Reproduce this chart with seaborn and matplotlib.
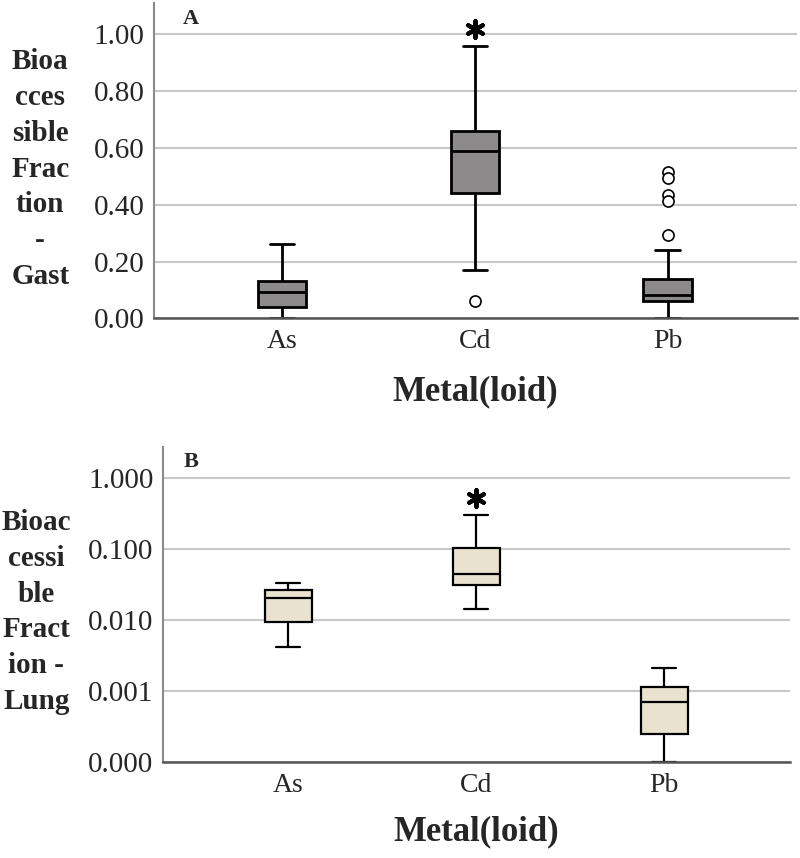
import pandas as pd
import matplotlib.pyplot as plt
import matplotlib.ticker as mticker
import seaborn as sns

#%% Dados (min, Q1, mediana, Q3, max de cada caixa)
metals = ['As', 'Cd', 'Pb']

gast_as = [0.0, 0.040, 0.092, 0.131, 0.26]
gast_cd = [0.171, 0.441, 0.59, 0.66, 0.96]
gast_pb = [0.0, 0.061, 0.082, 0.139, 0.242]
gast_out_metal = ['Cd', 'Pb', 'Pb', 'Pb', 'Pb', 'Pb']
gast_out_value = [0.061, 0.514, 0.493, 0.434, 0.413, 0.292]
gast_ext_metal = ['Cd']
gast_ext_value = [1.018]

lung_as = [0.0041, 0.0093, 0.0202, 0.0262, 0.033]
lung_cd = [0.0141, 0.0314, 0.0444, 0.103, 0.304]
lung_pb = [0.0001, 0.000246, 0.0007, 0.00114, 0.0021]
lung_ext_metal = ['Cd']
lung_ext_value = [0.52]

gast_ticks = [0.0, 0.2, 0.4, 0.6, 0.8, 1.0]
lung_ticks = [0.0001, 0.001, 0.01, 0.1, 1.0]

df_gast = pd.DataFrame({'metal': ['As'] * 5 + ['Cd'] * 5 + ['Pb'] * 5,
                        'value': gast_as + gast_cd + gast_pb})
df_lung = pd.DataFrame({'metal': ['As'] * 5 + ['Cd'] * 5 + ['Pb'] * 5,
                        'value': lung_as + lung_cd + lung_pb})

#%% Estilo
sns.set_style('white')
plt.rcParams['font.family'] = ['Liberation Serif', 'DejaVu Serif']

fig = plt.figure(figsize=(8, 8.58), dpi=100)
ax1 = fig.add_axes([0.1925, 0.629, 0.8035, 0.3675])
ax2 = fig.add_axes([0.204, 0.1122, 0.7835, 0.3672])


def style_axis(ax):
    ax.grid(axis='y', color='#c8c8c8', linewidth=1.5, zorder=0)
    ax.set_axisbelow(True)
    for s in ['top', 'right']:
        ax.spines[s].set_visible(False)
    ax.spines['left'].set_color('#8a8a8a')
    ax.spines['left'].set_linewidth(1.5)
    ax.spines['bottom'].set_color('#555555')
    ax.spines['bottom'].set_linewidth(1.8)
    ax.tick_params(axis='both', length=0)
    ax.tick_params(axis='y', labelsize=21, pad=7)
    ax.tick_params(axis='x', labelsize=20, pad=8)
    ax.set_xlim(-0.662, 2.67)


#%% Painel A - Gástrico
sns.boxplot(data=df_gast, x='metal', y='value', order=metals, whis=(0, 100),
            width=0.25, color='#8c8a8a', saturation=1, linecolor='black',
            linewidth=2, fliersize=0, ax=ax1)
sns.stripplot(x=gast_out_metal, y=gast_out_value, order=metals, jitter=False,
              color='white', edgecolor='black', linewidth=1.2, size=8, ax=ax1)
sns.stripplot(x=gast_ext_metal, y=gast_ext_value, order=metals, jitter=False,
              marker=(6, 2, 0), color='black', edgecolor='black', linewidth=3,
              size=12, ax=ax1)
style_axis(ax1)
ax1.set_ylim(0, 1.11)
ax1.set_yticks(gast_ticks)
ax1.yaxis.set_major_formatter(mticker.FormatStrFormatter('%.2f'))
ax1.set_ylabel('Bioa\ncces\nsible\nFrac\ntion\n-\nGast', rotation=0, fontsize=21,
               fontweight='bold', ha='center', va='center', linespacing=1.42)
ax1.yaxis.set_label_coords(-0.177, 0.4735)
ax1.set_xlabel('Metal(loid)', fontsize=25, fontweight='bold', va='center')
ax1.xaxis.set_label_coords(0.5, -0.234)
ax1.text(0.058, 0.95, 'A', transform=ax1.transAxes, fontsize=16,
         fontweight='bold', ha='center', va='center')

#%% Painel B - Pulmonar
ax2.set_yscale('log')
sns.boxplot(data=df_lung, x='metal', y='value', order=metals, whis=(0, 100),
            width=0.25, color='#e9e2cf', saturation=1, linecolor='black',
            linewidth=1.6, fliersize=0, ax=ax2)
sns.stripplot(x=lung_ext_metal, y=lung_ext_value, order=metals, jitter=False,
              marker=(6, 2, 0), color='black', edgecolor='black', linewidth=3,
              size=12, ax=ax2)
style_axis(ax2)
ax2.set_xlim(-0.665, 2.67)
ax2.set_ylim(0.0001, 2.79)
ax2.set_yticks(lung_ticks)
ax2.yaxis.set_minor_locator(mticker.NullLocator())
ax2.yaxis.set_major_formatter(mticker.FormatStrFormatter('%.3f'))
ax2.set_ylabel('Bioac\ncessi\nble\nFract\nion -\nLung', rotation=0, fontsize=21,
               fontweight='bold', ha='center', va='center', linespacing=1.42)
ax2.yaxis.set_label_coords(-0.2025, 0.475)
ax2.set_xlabel('Metal(loid)', fontsize=25, fontweight='bold', va='center')
ax2.xaxis.set_label_coords(0.5, -0.223)
ax2.text(0.045, 0.95, 'B', transform=ax2.transAxes, fontsize=16,
         fontweight='bold', ha='center', va='center')

fig.savefig('out.png', dpi=100)
